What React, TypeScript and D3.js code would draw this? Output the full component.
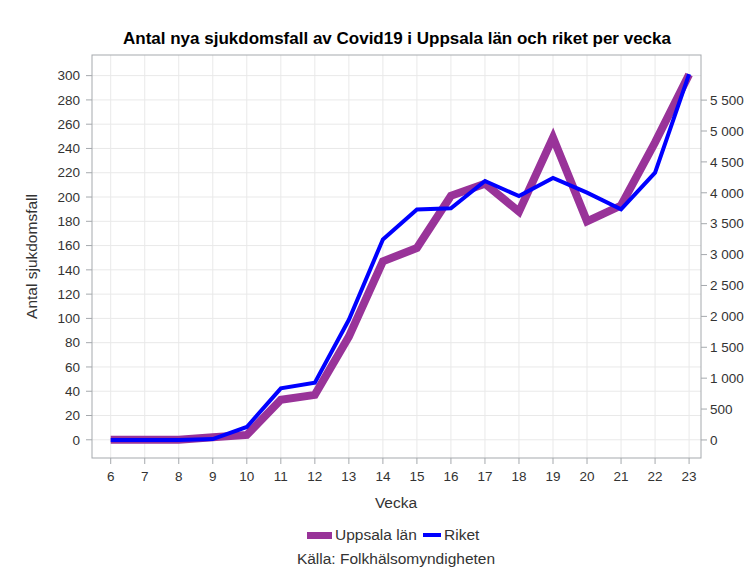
import React from 'react';
import * as d3 from 'd3';

// Veckonummer och antal nya fall per vecka
const weeks = [6, 7, 8, 9, 10, 11, 12, 13, 14, 15, 16, 17, 18, 19, 20, 21, 22, 23];
const uppsala = [0, 0, 0, 2, 4, 33, 37, 85, 147, 158, 201, 211, 188, 249, 180, 193, 245, 301];
const riket = [0, 0, 0, 15, 210, 835, 925, 1945, 3245, 3731, 3748, 4191, 3947, 4240, 4002, 3731, 4327, 5921];

const leftTicks = d3.range(0, 301, 20);
const rightTicks = d3.range(0, 5501, 500);

const W = 756;
const H = 572;
const frame = { left: 92, right: 701, top: 55, bottom: 458 };
const font = 'Arial, "Liberation Sans", sans-serif';

const PURPLE = '#993399';
const BLUE = '#0000ff';
const AXIS = '#a5a9ad';
const GRID = '#e9e9e9';
const TXT = '#333';

const fmtSpace = (v: number) => d3.format(',')(v).replace(/,/g, ' ');

export default function App() {
  const x = d3.scaleLinear()
    .domain([5.45, 23.35])
    .range([frame.left, frame.right]);

  const yLeft = d3.scaleLinear()
    .domain([-15, 317])
    .range([frame.bottom, frame.top]);

  const yRight = d3.scaleLinear()
    .domain([-292, 6230])
    .range([frame.bottom, frame.top]);

  const lineLeft = d3.line<number>()
    .x((_, i) => x(weeks[i]))
    .y(d => yLeft(d));

  const lineRight = d3.line<number>()
    .x((_, i) => x(weeks[i]))
    .y(d => yRight(d));

  return (
    <svg width={W} height={H} style={{ position: 'absolute', left: 0, top: 0, background: '#fff' }}
      fontFamily={font}>
      <rect x={0} y={0} width={W} height={H} fill="#fff" />

      <text x={397} y={44} textAnchor="middle" fontSize={17} fontWeight="bold" fill="#000">
        Antal nya sjukdomsfall av Covid19 i Uppsala län och riket per vecka
      </text>

      {/* grid */}
      {weeks.map(w => (
        <line key={'gx' + w} x1={x(w)} x2={x(w)} y1={frame.top} y2={frame.bottom}
          stroke={GRID} strokeWidth={1} />
      ))}
      {leftTicks.map(t => (
        <line key={'gy' + t} x1={frame.left} x2={frame.right} y1={yLeft(t)} y2={yLeft(t)}
          stroke={GRID} strokeWidth={1} />
      ))}

      {/* frame */}
      <rect x={frame.left} y={frame.top} width={frame.right - frame.left}
        height={frame.bottom - frame.top} fill="none" stroke={AXIS} strokeWidth={1} />

      {/* left axis */}
      {leftTicks.map(t => (
        <g key={'ly' + t}>
          <line x1={frame.left - 6} x2={frame.left} y1={yLeft(t)} y2={yLeft(t)} stroke={AXIS} />
          <text x={frame.left - 12} y={yLeft(t)} dy="0.35em" textAnchor="end" fontSize={13.5} fill={TXT}>
            {t}
          </text>
        </g>
      ))}

      {/* right axis */}
      {rightTicks.map(t => (
        <g key={'ry' + t}>
          <line x1={frame.right} x2={frame.right + 6} y1={yRight(t)} y2={yRight(t)} stroke={AXIS} />
          <text x={frame.right + 9} y={yRight(t)} dy="0.35em" textAnchor="start" fontSize={13.5} fill={TXT}>
            {fmtSpace(t)}
          </text>
        </g>
      ))}

      {/* bottom axis */}
      {weeks.map(w => (
        <g key={'bx' + w}>
          <line x1={x(w)} x2={x(w)} y1={frame.bottom} y2={frame.bottom + 6} stroke={AXIS} />
          <text x={x(w)} y={frame.bottom + 23} textAnchor="middle" fontSize={13.5} fill={TXT}>
            {w}
          </text>
        </g>
      ))}

      <text x={396} y={507.5} textAnchor="middle" fontSize={15.5} fill={TXT}>Vecka</text>
      <text transform={`translate(37,${(frame.top + frame.bottom) / 2}) rotate(-90)`}
        textAnchor="middle" fontSize={15.5} fill={TXT}>Antal sjukdomsfall</text>

      {/* series */}
      <path d={lineLeft(uppsala) || ''} fill="none" stroke={PURPLE} strokeWidth={8}
        strokeLinejoin="miter" />
      <path d={lineRight(riket) || ''} fill="none" stroke={BLUE} strokeWidth={4}
        strokeLinejoin="miter" />

      {/* legend */}
      <rect x={307} y={532} width={25} height={7} fill={PURPLE} />
      <text x={335} y={540} fontSize={15.5} fill={TXT}>Uppsala län</text>
      <rect x={423} y={533} width={18} height={4} fill={BLUE} />
      <text x={444} y={540} fontSize={15.5} fill={TXT}>Riket</text>
      <text x={396} y={564} textAnchor="middle" fontSize={15.5} fill={TXT}>Källa: Folkhälsomyndigheten</text>
    </svg>
  );
}
